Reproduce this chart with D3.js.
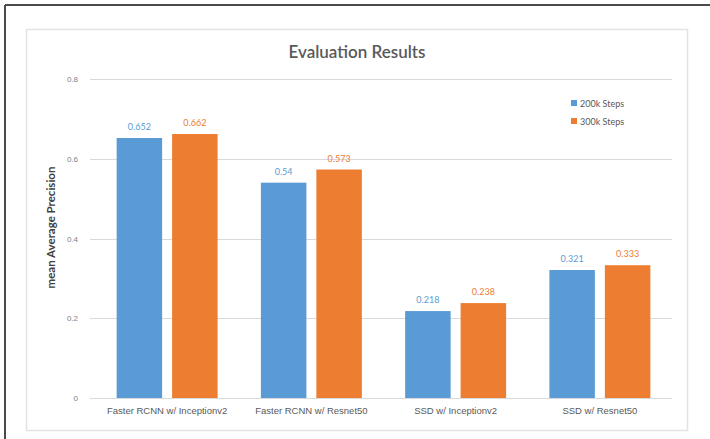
<!DOCTYPE html>
<html>
<head>
<meta charset="utf-8">
<script src="https://cdn.jsdelivr.net/npm/d3@7"></script>
<style>
  html, body { margin: 0; padding: 0; background: #fff; }
  svg { display: block; font-family: Lato, "Open Sans", sans-serif; }
</style>
</head>
<body>
<svg id="chart" width="710" height="439"></svg>
<script>
// Model configurations evaluated
const categories = [
  "Faster RCNN w/ Inceptionv2",
  "Faster RCNN w/ Resnet50",
  "SSD w/ Inceptionv2",
  "SSD w/ Resnet50"
];
// mAP after each training length
const steps200k = [0.652, 0.54, 0.218, 0.321];
const steps300k = [0.662, 0.573, 0.238, 0.333];
const seriesNames = ["200k Steps", "300k Steps"];
const yTicks = [0, 0.2, 0.4, 0.6, 0.8];

const colors = ["#5B9BD5", "#ED7D31"];
const seriesValues = [steps200k, steps300k];

const svg = d3.select("#chart");

// dark frame around the figure (top and left edges)
svg.append("line").attr("x1", 5).attr("x2", 710).attr("y1", 5).attr("y2", 5)
  .attr("stroke", "#4a4a4a").attr("stroke-width", 2);
svg.append("line").attr("x1", 5).attr("x2", 5).attr("y1", 5).attr("y2", 439)
  .attr("stroke", "#4a4a4a").attr("stroke-width", 2);

// chart area border
svg.append("rect").attr("x", 26.5).attr("y", 29.5).attr("width", 661).attr("height", 401)
  .attr("fill", "#fff").attr("stroke", "#e3e3e3").attr("stroke-width", 1.5);

const plot = { left: 95, right: 672, top: 79, bottom: 398 };

const x0 = d3.scaleBand().domain(categories)
  .range([plot.left, plot.right]).paddingInner(0.3).paddingOuter(0.15);
const x1 = d3.scaleBand().domain(seriesNames)
  .range([0, x0.bandwidth()]).paddingInner(0.18);
const y = d3.scaleLinear().domain([0, 0.8]).range([plot.bottom, plot.top]);

// gridlines
svg.append("g")
  .selectAll("line").data(yTicks).join("line")
  .attr("x1", 90).attr("x2", plot.right)
  .attr("y1", d => Math.round(y(d)) + 0.5).attr("y2", d => Math.round(y(d)) + 0.5)
  .attr("stroke", "#d9d9d9").attr("stroke-width", 1);

// y axis tick labels
const yAxis = d3.axisLeft(y).tickValues(yTicks).tickSize(0).tickPadding(0)
  .tickFormat(d => d === 0 ? "0" : d3.format(".1f")(d));
svg.append("g").attr("transform", "translate(78,0)").call(yAxis)
  .call(g => g.select(".domain").remove())
  .call(g => g.selectAll("text").attr("fill", "#7f7f7f").attr("font-size", 8));

// bars
const groups = svg.append("g").selectAll("g").data(categories).join("g")
  .attr("transform", c => `translate(${x0(c)},0)`);
groups.each(function(c, i) {
  const g = d3.select(this);
  seriesNames.forEach((s, k) => {
    const v = seriesValues[k][i];
    g.append("rect")
      .attr("x", x1(s)).attr("width", x1.bandwidth())
      .attr("y", y(v)).attr("height", y(0) - y(v))
      .attr("fill", colors[k]);
    g.append("text")
      .attr("x", x1(s) + x1.bandwidth() / 2).attr("y", y(v) - 8)
      .attr("text-anchor", "middle").attr("font-size", 9)
      .attr("fill", colors[k]).text(v);
  });
});

// x axis labels
const xAxis = d3.axisBottom(x0).tickSize(0).tickPadding(0);
svg.append("g").attr("transform", `translate(0,${plot.bottom + 9})`).call(xAxis)
  .call(g => g.select(".domain").remove())
  .call(g => g.selectAll("text").attr("fill", "#595959").attr("font-size", 9.5));

// title
svg.append("text").attr("x", 357).attr("y", 58).attr("text-anchor", "middle")
  .attr("font-size", 17).attr("font-weight", 600).attr("fill", "#595959")
  .text("Evaluation Results");

// y axis title
svg.append("text")
  .attr("transform", `translate(55,${(plot.top + plot.bottom) / 2 - 11}) rotate(-90)`)
  .attr("text-anchor", "middle").attr("font-size", 11.5).attr("font-weight", 700)
  .attr("fill", "#404040").text("mean Average Precision");

// legend
const legend = svg.append("g").attr("transform", "translate(571,100)");
seriesNames.forEach((s, k) => {
  const row = legend.append("g").attr("transform", `translate(0,${k * 18})`);
  row.append("rect").attr("width", 6).attr("height", 6).attr("fill", colors[k]);
  row.append("text").attr("x", 9).attr("y", 6.5).attr("font-size", 9)
    .attr("fill", "#595959").text(s);
});
</script>
</body>
</html>
